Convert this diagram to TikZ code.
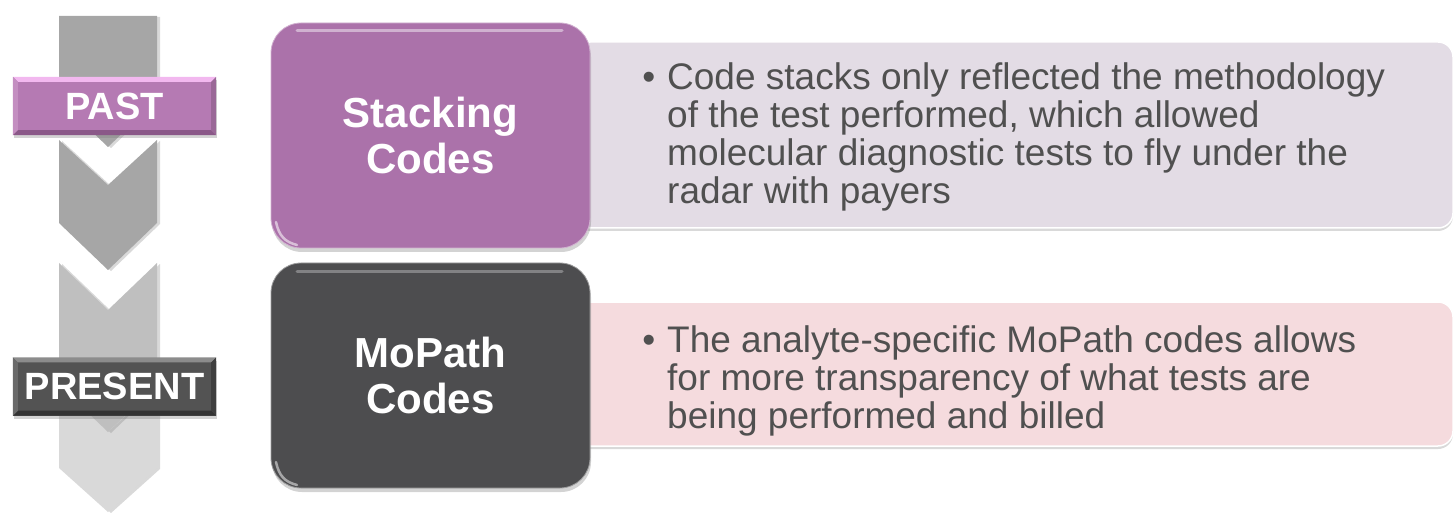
\documentclass[tikz,border=0pt]{standalone}
\usepackage{fontspec}
\setmainfont{Liberation Sans}
\usetikzlibrary{shadows}
\definecolor{chevA}{HTML}{A6A6A6}
\definecolor{chevC}{HTML}{BFBFBF}
\definecolor{chevD}{HTML}{D9D9D9}
\definecolor{pastc}{HTML}{B57AB3}
\definecolor{pasthi}{HTML}{F2B8EF}
\definecolor{pastlo}{HTML}{8A5888}
\definecolor{pastl}{HTML}{C48EC1}
\definecolor{pastr}{HTML}{9A6897}
\definecolor{presc}{HTML}{535353}
\definecolor{preshi}{HTML}{8C8C8C}
\definecolor{preslo}{HTML}{333333}
\definecolor{presl}{HTML}{6A6A6A}
\definecolor{presr}{HTML}{3E3E3E}
\definecolor{stackc}{HTML}{AB72AA}
\definecolor{mopc}{HTML}{4D4D4F}
\definecolor{upbox}{HTML}{E3DCE5}
\definecolor{lowbox}{HTML}{F5DBDE}
\definecolor{txt}{HTML}{505050}
\begin{document}
\begin{tikzpicture}[x=1pt,y=-1pt,
  chev/.style={fill=#1, drop shadow={shadow xshift=3pt, shadow yshift=-1pt, opacity=.3}},
  tag/.style={fill=#1, minimum width=203pt, minimum height=58pt, inner sep=0pt,
    text=white, font=\bfseries\fontsize{38}{40}\selectfont,
    drop shadow={shadow xshift=1pt, shadow yshift=-3pt, opacity=.35}},
  codebox/.style={fill=#1, draw=#1!55!white, line width=0.8pt, rounded corners=30pt,
    minimum width=319pt, minimum height=225pt, inner sep=0pt, align=center,
    text=white, font=\bfseries\fontsize{42}{46}\selectfont,
    drop shadow={shadow xshift=1pt, shadow yshift=-4pt, opacity=.35}},
  textbox/.style={fill=#1, draw=white, line width=1.5pt, rounded corners=15pt,
    drop shadow={shadow xshift=0pt, shadow yshift=-3pt, opacity=.3}},
  bodytext/.style={inner sep=0pt, align=left, text=txt, font=\fontsize{37}{38}\selectfont},
  gloss/.style={white, opacity=.45, line width=3pt, line cap=round}
]
\useasboundingbox (0,0) rectangle (1454,513);

% chevrons of the timeline arrow
\path[chev=chevA] (59,16) -- (157,16) -- (157,100) -- (108,147) -- (59,100) -- cycle;
\path[chev=chevA] (59,140) -- (108,185) -- (157,140) -- (157,223) -- (108,270) -- (59,223) -- cycle;
\path[chev=chevD] (59,387) -- (108,432) -- (157,387) -- (157,468) -- (108,512) -- (59,468) -- cycle;
\path[chev=chevC] (59,263) -- (108,310) -- (157,263) -- (157,385) -- (108,432) -- (59,385) -- cycle;

% text boxes
\path[textbox=upbox] (575,42) -- (1453,42) -- (1453,228) -- (575,228) -- cycle;
\path[textbox=lowbox] (575,302) -- (1453,302) -- (1453,446) -- (575,446) -- cycle;

\node[bodytext, anchor=north west] (t1) at (667,62.5)
  {\llap{•\hspace{12pt}}Code stacks only reflected the methodology\\
   of the test performed, which allowed\\
   molecular diagnostic tests to fly under the\\
   radar with payers};
\node[bodytext, anchor=north west] (t2) at (667,325.5)
  {\llap{•\hspace{12pt}}The analyte-specific MoPath codes allows\\
   for more transparency of what tests are\\
   being performed and billed};

% code boxes
\node[codebox=stackc] (stack) at (430.5,135.5) {Stacking\\Codes};
\draw[gloss] (297,31) -- (562,31);
\draw[white, opacity=.55, line width=2.5pt, line cap=round] (276,222) .. controls (279,236) and (285,242) .. (297,245);
\node[codebox=mopc] (mopath) at (430.5,375.5) {MoPath\\Codes};
\draw[gloss, opacity=.3] (297,271) -- (562,271);
\draw[white, opacity=.5, line width=2.5pt, line cap=round] (276,462) .. controls (279,476) and (285,482) .. (297,485);

% labels
\node[tag=pastc] (past) at (114.5,106) {PAST};
\fill[pasthi] (past.north west) -- (past.north east) -- ([xshift=-5pt,yshift=-5pt]past.north east) -- ([xshift=5pt,yshift=-5pt]past.north west) -- cycle;
\fill[pastlo] (past.south west) -- (past.south east) -- ([xshift=-5pt,yshift=5pt]past.south east) -- ([xshift=5pt,yshift=5pt]past.south west) -- cycle;
\fill[pastl] (past.north west) -- ([xshift=5pt,yshift=-5pt]past.north west) -- ([xshift=5pt,yshift=5pt]past.south west) -- (past.south west) -- cycle;
\fill[pastr] (past.north east) -- ([xshift=-5pt,yshift=-5pt]past.north east) -- ([xshift=-5pt,yshift=5pt]past.south east) -- (past.south east) -- cycle;

\node[tag=presc] (present) at (114.5,386.5) {PRESENT};
\fill[preshi] (present.north west) -- (present.north east) -- ([xshift=-5pt,yshift=-5pt]present.north east) -- ([xshift=5pt,yshift=-5pt]present.north west) -- cycle;
\fill[preslo] (present.south west) -- (present.south east) -- ([xshift=-5pt,yshift=5pt]present.south east) -- ([xshift=5pt,yshift=5pt]present.south west) -- cycle;
\fill[presl] (present.north west) -- ([xshift=5pt,yshift=-5pt]present.north west) -- ([xshift=5pt,yshift=5pt]present.south west) -- (present.south west) -- cycle;
\fill[presr] (present.north east) -- ([xshift=-5pt,yshift=-5pt]present.north east) -- ([xshift=-5pt,yshift=5pt]present.south east) -- (present.south east) -- cycle;
\end{tikzpicture}
\end{document}
